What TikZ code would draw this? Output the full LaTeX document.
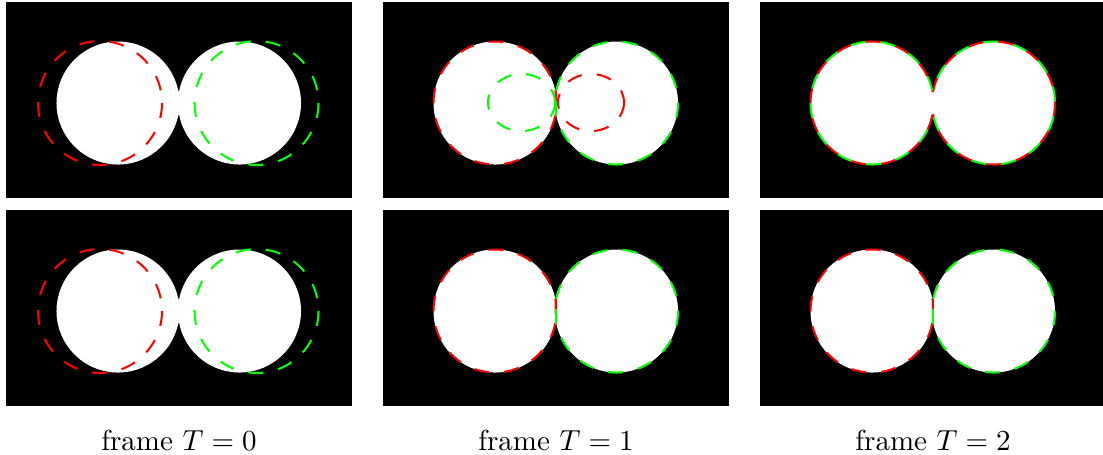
\documentclass[tikz,border=0pt]{standalone}

\begin{document}
\begin{tikzpicture}[
  x=0.345pt, y=-0.345pt,
  panel/.style={fill=black},
  blob/.style={fill=white},
  redline/.style={draw=red, line width=0.7pt, dash pattern=on 5.2pt off 5.2pt},
  greenline/.style={draw=green, line width=0.7pt, dash pattern=on 5.2pt off 5.2pt},
  caption/.style={inner sep=0pt},
  twin/.style={insert path={(112,101) ++(11.25:61.5) arc[start angle=11.25, end angle=348.75, radius=61.5]
    -- ++(0.86,0) arc[start angle=191.25, end angle=528.75, radius=61.5] -- cycle}},
  leftcell/.style={insert path={(112,101) ++(11.25:61.5) arc[start angle=11.25, end angle=348.75, radius=61.5]
    -- ++(0.43,0) -- ++(0,24) -- cycle}},
  rightcell/.style={insert path={(233.5,101) ++(191.25:61.5) arc[start angle=191.25, end angle=528.75, radius=61.5]
    -- ++(-0.43,0) -- ++(0,-24) -- cycle}}
]
\useasboundingbox (0,0) rectangle (1103,454);

% frame T=0
\begin{scope}[shift={(6,2)}]
  \fill[panel] (0,0) rectangle (346,196);
  \fill[blob, twin];
  \draw[redline] (94,101) circle (62);
  \draw[greenline] (250.5,101) circle (62);
\end{scope}
\begin{scope}[shift={(6,210)}]
  \fill[panel] (0,0) rectangle (346,196);
  \fill[blob, twin];
  \draw[redline] (94,101) circle (62);
  \draw[greenline] (250.5,101) circle (62);
\end{scope}

% frame T=1
\begin{scope}[shift={(383,2)}]
  \fill[panel] (0,0) rectangle (346,196);
  \fill[blob, twin];
  \draw[redline, leftcell];
  \draw[greenline, rightcell];
  \draw[greenline] (138.5,100.5) ellipse [x radius=33.5, y radius=28.5];
  \draw[redline] (208,100.5) ellipse [x radius=33, y radius=28.5];
\end{scope}
\begin{scope}[shift={(383,210)}]
  \fill[panel] (0,0) rectangle (346,196);
  \fill[blob, twin];
  \draw[redline, leftcell];
  \draw[greenline, rightcell];
\end{scope}

% frame T=2
\begin{scope}[shift={(760,2)}]
  \fill[panel] (0,0) rectangle (343,196);
  \fill[blob, twin];
  \draw[redline, twin];
  \draw[greenline, dash phase=5.2pt, twin];
\end{scope}
\begin{scope}[shift={(760,210)}]
  \fill[panel] (0,0) rectangle (343,196);
  \fill[blob, twin];
  \draw[redline, leftcell];
  \draw[greenline, rightcell];
\end{scope}

\node[caption] (cap0) at (179,440) {frame $T=0$};
\node[caption] (cap1) at (556,440) {frame $T=1$};
\node[caption] (cap2) at (933,440) {frame $T=2$};
\end{tikzpicture}
\end{document}
